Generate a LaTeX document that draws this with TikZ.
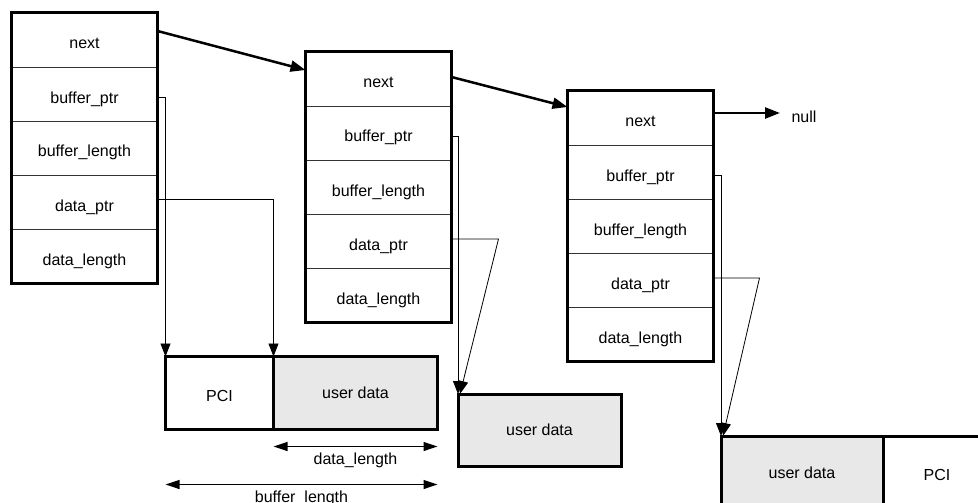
\documentclass[tikz,border=0pt]{standalone}
\usepackage{fontspec}
\setmainfont{Liberation Sans}
\usetikzlibrary{positioning}
\usetikzlibrary{arrows.meta}
\definecolor{userfill}{HTML}{E8E8E8}

\begin{document}
\begin{tikzpicture}[x=1pt, y=-1pt, every node/.style={font=\fontsize{16}{19}\selectfont},
  cell/.style={draw=black!80, line width=0.8pt, rectangle, minimum width=146pt, minimum height=54pt, inner sep=0pt, outer sep=0pt, text height=20pt, text depth=2pt},
  frame/.style={line width=3pt},
  bufcell/.style={draw, line width=3pt, rectangle, minimum height=73pt, inner sep=0pt, outer sep=0pt},
  pcicell/.style={bufcell, minimum width=108pt, text height=18pt, text depth=2pt},
  nextarrow/.style={line width=2.5pt, -{Triangle[length=15pt,width=11pt]}},
  ptr/.style={line width=0.8pt, -{Triangle[length=13pt,width=10pt]}},
  dim/.style={line width=1.2pt, {Triangle[length=14pt,width=9pt]}-{Triangle[length=14pt,width=9pt]}}]
\useasboundingbox (0,0) rectangle (978,503);

% the three descriptors
\foreach \b/\x/\y in {A/84.5/40, B/378.5/79, C/640.5/118} {
  \node[cell] (Next\b) at (\x,\y) {next};
  \node[cell, below=0pt of Next\b] (BufPtr\b) {buffer\_ptr};
  \node[cell, below=0pt of BufPtr\b] (BufLen\b) {buffer\_length};
  \node[cell, below=0pt of BufLen\b] (DataPtr\b) {data\_ptr};
  \node[cell, below=0pt of DataPtr\b] (DataLen\b) {data\_length};
  \draw[frame] (Next\b.north west) rectangle (DataLen\b.south east);
}

% buffers
\node[pcicell] (PciA) at (219.5,393) {PCI};
\node[bufcell, fill=userfill, minimum width=164pt, right=0pt of PciA] (UserA) {user data};
\node[bufcell, fill=userfill, minimum width=163pt, minimum height=72pt] (UserB) at (539.5,430) {user data};
\node[bufcell, fill=userfill, minimum width=162pt] (UserC) at (802,472.5) {user data};
\node[pcicell, right=0pt of UserC] (PciC) {PCI};

% next chain
\coordinate (NullEnd) at (780,113);
\node[right=8pt of NullEnd, yshift=-4pt] (Null) {null};
\draw[nextarrow] ([yshift=9pt]NextA.east) -- ([yshift=9pt]NextB.west);
\draw[nextarrow] ([yshift=2pt]NextB.east) -- ([yshift=11pt]NextC.west);
\draw[nextarrow] ([yshift=5pt]NextC.east) -- (NullEnd);

% pointers
\draw[ptr] ([yshift=-3pt]BufPtrA.east) -| (PciA.north west);
\draw[ptr] ([yshift=3pt]DataPtrA.east) -| (UserA.north west);
\draw[ptr] ([yshift=-3pt]BufPtrB.east) -| (UserB.north west);
\draw[ptr] ([yshift=2pt]DataPtrB.east) -- ++(47,0) -- ([xshift=2pt]UserB.north west);
\draw[ptr] ([yshift=-3pt]BufPtrC.east) -| (UserC.north west);
\draw[ptr] ([yshift=2pt]DataPtrC.east) -- ++(46,0) -- ([xshift=2pt]UserC.north west);

% lengths
\draw[dim] ([yshift=-17pt]UserA.south west) -- ([yshift=-17pt]UserA.south east)
  node[midway, below=2pt] {data\_length};
\draw[dim] ([yshift=-55pt]PciA.south west) -- ([yshift=-55pt]UserA.south east)
  node[midway, below=2pt] {buffer\_length};
\end{tikzpicture}
\end{document}
